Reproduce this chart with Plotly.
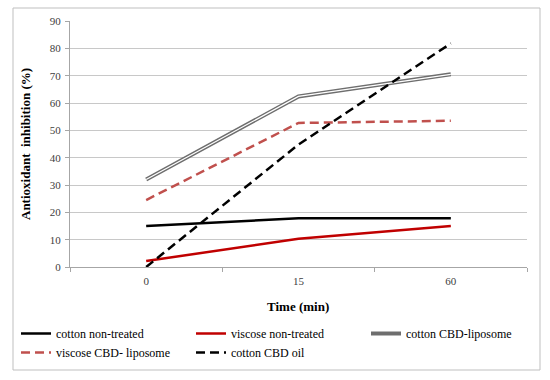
import plotly.graph_objects as go

times = ["0", "15", "60"]
cotton_non_treated = [15.0, 17.8, 17.8]
viscose_non_treated = [2.2, 10.3, 15.0]
cotton_cbd_liposome = [32.0, 62.4, 70.5]
viscose_cbd_liposome = [24.5, 52.7, 53.5]
cotton_cbd_oil = [0.0, 44.8, 81.8]
y_ticks = list(range(0, 91, 10))

FONT = "Liberation Serif"

fig = go.Figure()
fig.add_trace(go.Scatter(x=times, y=cotton_non_treated, mode="lines", name="cotton non-treated",
                         line=dict(color="#000000", width=2.5)))
fig.add_trace(go.Scatter(x=times, y=viscose_non_treated, mode="lines", name="viscose non-treated",
                         line=dict(color="#C00000", width=2.5)))
fig.add_trace(go.Scatter(x=times, y=cotton_cbd_liposome, mode="lines", name="cotton CBD-liposome",
                         line=dict(color="#6E6E6E", width=4)))
fig.add_trace(go.Scatter(x=times, y=cotton_cbd_liposome, mode="lines", showlegend=False, hoverinfo="skip",
                         line=dict(color="#FFFFFF", width=1.3)))
fig.add_trace(go.Scatter(x=times, y=viscose_cbd_liposome, mode="lines", name="viscose CBD- liposome",
                         line=dict(color="#C0504D", width=2.5, dash="9px,5px")))
fig.add_trace(go.Scatter(x=times, y=cotton_cbd_oil, mode="lines", name="cotton CBD oil",
                         line=dict(color="#000000", width=2.5, dash="9px,5px")))

L, R, T, B = 70, 23, 21, 113
W, H = 550, 380
pw, ph = W - L - R, H - T - B

def px(x):
    return (x - L) / pw

def py(y):
    return (H - B - y) / ph

fig.update_layout(
    width=W, height=H,
    margin=dict(l=L, r=R, t=T, b=B, autoexpand=False),
    paper_bgcolor="white", plot_bgcolor="white",
    font=dict(family=FONT, size=11, color="#404040"),
    xaxis=dict(type="category", range=[-0.5, 2.5], showgrid=False, showline=True, linecolor="#A6A6A6",
               linewidth=1, ticks="outside", tickson="boundaries", ticklen=4, tickcolor="#A6A6A6",
               ticklabelstandoff=4,
               tickfont=dict(family=FONT, size=11, color="#404040"), zeroline=False),
    yaxis=dict(range=[0, 90], tickvals=y_ticks, showgrid=True, gridcolor="#C8C8C8", gridwidth=1,
               showline=True, linecolor="#A6A6A6", linewidth=1, ticks="outside", ticklen=4,
               tickcolor="#A6A6A6", ticklabelstandoff=2,
               tickfont=dict(family=FONT, size=11, color="#404040"),
               zeroline=False),
    showlegend=True,
    legend=dict(orientation="h", x=px(16), y=py(319), xanchor="left", yanchor="top",
                entrywidth=130, entrywidthmode="pixels", tracegroupgap=0,
                font=dict(family=FONT, size=12, color="#000000"), bgcolor="rgba(0,0,0,0)"),
    shapes=[dict(type="rect", xref="paper", yref="paper", x0=px(13), x1=px(540), y0=py(370), y1=py(8),
                 line=dict(color="#BFBFBF", width=1), layer="below")],
    annotations=[
        dict(text="<b>Time (min)</b>", xref="paper", yref="paper", x=px(298), y=py(306),
             xanchor="center", yanchor="middle", showarrow=False,
             font=dict(family=FONT, size=13, color="#000000")),
        dict(text="<b>Antioxidant  inhibition (%)</b>", xref="paper", yref="paper", x=px(25), y=py(144),
             xanchor="center", yanchor="middle", showarrow=False, textangle=-90,
             font=dict(family=FONT, size=13, color="#000000")),
    ],
)

fig.write_html("out.html", config={"displayModeBar": False},
               post_script="document.body.style.margin='0';")
